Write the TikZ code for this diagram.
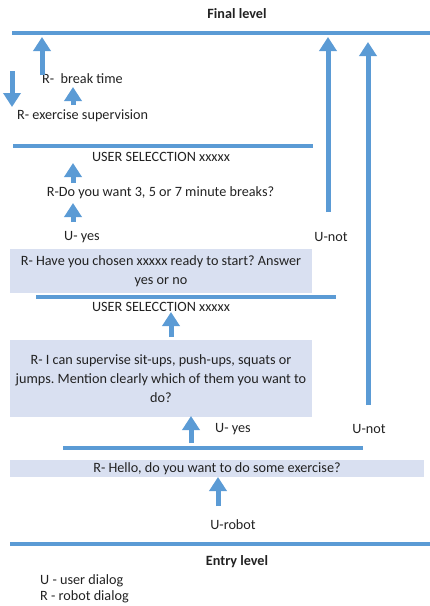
\documentclass[tikz,border=0pt]{standalone}
\usepackage{fontspec}
\setmainfont{Carlito}
\usetikzlibrary{arrows.meta}
\definecolor{dlblue}{HTML}{5B9BD5}
\definecolor{dlfill}{HTML}{D9E0F1}
\definecolor{dlink}{HTML}{222222}
\tikzset{
  dl text/.style={font=\fontsize{14.2}{19}\selectfont, text=dlink, inner sep=0pt},
  dl level/.style={dl text, font=\fontsize{14.2}{19}\selectfont\bfseries},
  dl bar/.style={draw=dlblue, line width=4pt},
  dl box/.style={dl text, fill=dlfill, align=center, minimum width=302pt},
  dl arrow/.style={-{Triangle[length=14pt,width=17pt]}, line width=5pt, draw=dlblue}
}
\frenchspacing

\begin{document}
\begin{tikzpicture}[x=1pt, y=-1pt]
  \useasboundingbox (0,0) rectangle (430,606);
  % levels
  \node[dl level] (final) at (237,14) {Final level};
  \node[dl level] (entry) at (237,562) {Entry level};
  \draw[dl bar] (12,33) -- (430,33);
  \draw[dl bar] (13,146) -- (313,146);
  \draw[dl bar] (36,297) -- (336,297);
  \draw[dl bar] (63,448) -- (363,448);
  \draw[dl bar] (10,544) -- (430,544);
  % robot prompts
  \node[dl box, minimum height=44pt] (chosen) at (161,271)
    {R- Have you chosen xxxxx ready to start? Answer\\yes or no};
  \node[dl box, minimum height=77pt] (supervise) at (161,378.5)
    {R- I can supervise sit-ups, push-ups, squats or\\jumps. Mention clearly which of them you want to\\do?};
  \node[dl box, minimum width=414pt, minimum height=17pt] (hello) at (217,468.5)
    {R- Hello, do you want to do some exercise?};
  % dialog texts
  \node[dl text, anchor=west] (brk) at (42,79) {R-\ \ break time};
  \node[dl text, anchor=west] (exsup) at (17,116) {R- exercise supervision};
  \node[dl text] (sel1) at (161,157) {USER SELECCTION xxxxx};
  \node[dl text] (breaks) at (160.5,193) {R-Do you want 3, 5 or 7 minute breaks?};
  \node[dl text] (yes1) at (82,237) {U- yes};
  \node[dl text] (not1) at (331,237) {U-not};
  \node[dl text] (sel2) at (161,307) {USER SELECCTION xxxxx};
  \node[dl text] (yes2) at (233,429) {U- yes};
  \node[dl text] (not2) at (369,429) {U-not};
  \node[dl text] (robot) at (233,525) {U-robot};
  \node[dl text, anchor=west] (ukey) at (40,581) {U - user dialog};
  \node[dl text, anchor=west] (rkey) at (40,597) {R - robot dialog};
  % block arrows
  \foreach \n/\x/\ya/\yb in {a/42/75/37, b/12/71/107, c/73/105/87, d/73/183/163,
      e/73/222/203, f/328/212/37, g/368/405/42, h/171/337/312, i/191/443/416,
      j/218/506/477} {
    \coordinate (\n s) at (\x,\ya);
    \coordinate (\n e) at (\x,\yb);
    \draw[dl arrow] (\n s) -- (\n e);
  }
\end{tikzpicture}
\end{document}
